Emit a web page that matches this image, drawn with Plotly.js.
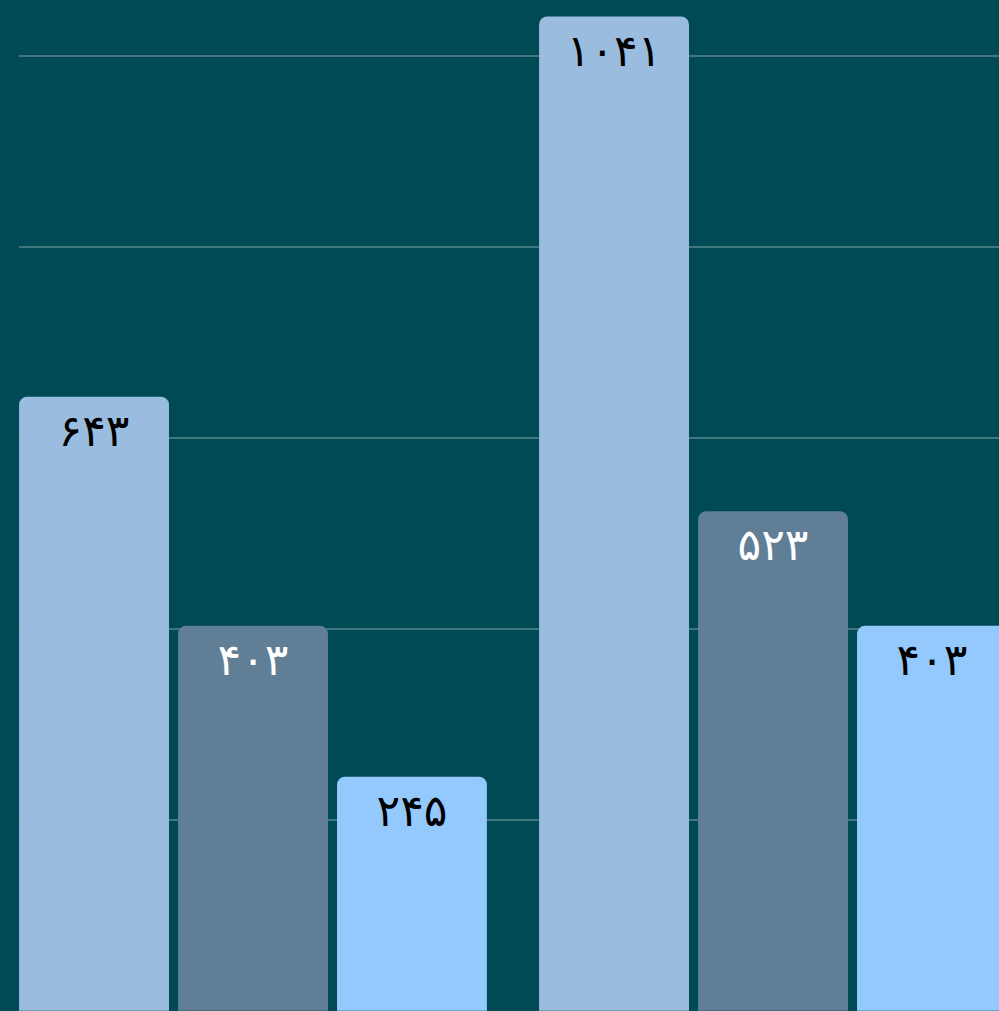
<!DOCTYPE html>
<html>
<head>
<meta charset="utf-8">
<script src="https://cdn.plot.ly/plotly-3.0.1.min.js"></script>
<style>html,body{margin:0;padding:0;background:#004a55;}#chart{width:999px;height:1011px;}</style>
</head>
<body>
<div id="chart"></div>
<script>
const categories = ["A", "B"];
const seriesNames = ["Series 1", "Series 2", "Series 3"];
const series1 = [643, 1041];
const series2 = [403, 523];
const series3 = [245, 403];
const colors = ["#9abcdf", "#607e96", "#93c9fd"];
const textColors = ["#000000", "#ffffff", "#000000"];

function toPersian(n) {
  const d = "۰۱۲۳۴۵۶۷۸۹";
  return String(n).replace(/[0-9]/g, c => d[+c]);
}

const allSeries = [series1, series2, series3];
const traces = allSeries.map((vals, i) => ({
  type: "bar",
  name: seriesNames[i],
  x: categories,
  y: vals,
  text: vals.map(toPersian),
  textposition: "inside",
  insidetextanchor: "end",
  textangle: 0,
  textfont: {family: "DejaVu Sans, Noto Sans, sans-serif", size: 44, color: textColors[i]},
  marker: {color: colors[i], line: {width: 0}},
  hoverinfo: "none"
}));

const layout = {
  width: 999,
  height: 1011,
  margin: {l: 19, r: 0, t: 0, b: 0, pad: 0},
  paper_bgcolor: "#004a55",
  plot_bgcolor: "#004a55",
  showlegend: false,
  barmode: "group",
  bargap: 0.083,
  bargroupgap: 0.057,
  barcornerradius: 8,
  xaxis: {
    type: "category",
    range: [-0.45, 1.4346],
    showticklabels: false,
    showgrid: false,
    zeroline: false,
    showline: false,
    ticks: ""
  },
  yaxis: {
    range: [-0.3, 1058.3],
    dtick: 200,
    tick0: 0,
    showticklabels: false,
    showgrid: true,
    gridcolor: "rgba(255,255,255,0.25)",
    gridwidth: 2,
    zeroline: false,
    showline: false,
    ticks: ""
  }
};

Plotly.newPlot("chart", traces, layout, {displayModeBar: false, staticPlot: true});
</script>
</body>
</html>
